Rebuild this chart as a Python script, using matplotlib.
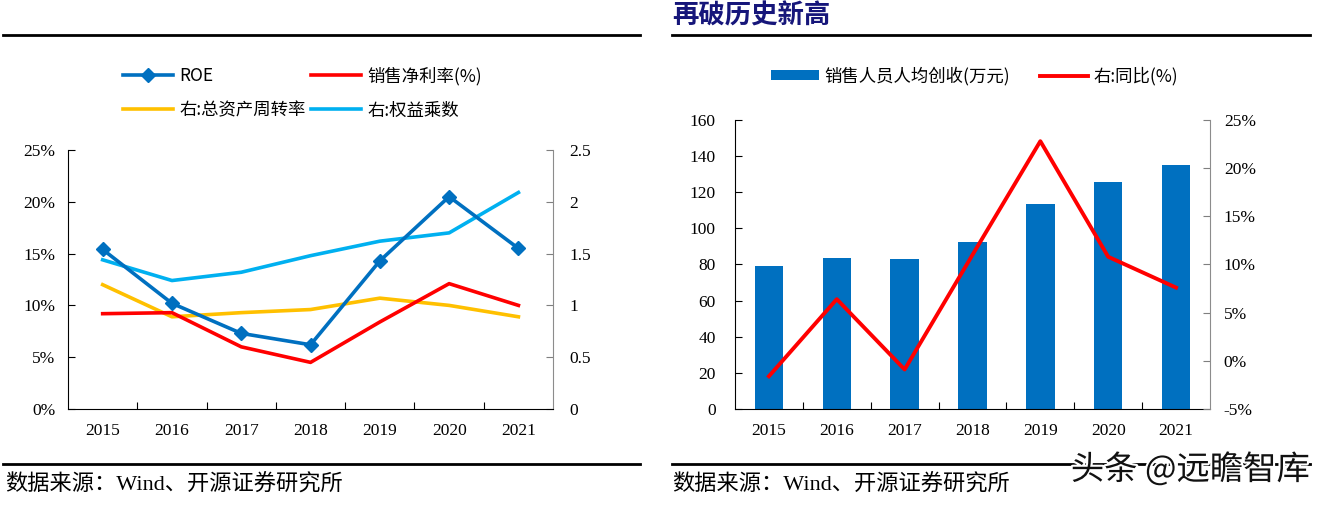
import matplotlib.pyplot as plt
import matplotlib.patheffects as pe
from matplotlib.ticker import FuncFormatter

plt.rcParams['font.family'] = ['Liberation Serif', 'Noto Sans CJK SC']

############
### DATA ###
############
years = ['2015', '2016', '2017', '2018', '2019', '2020', '2021']

# left chart
roe = [15.4, 10.2, 7.3, 6.2, 14.3, 20.5, 15.5]
net_margin = [9.2, 9.3, 6.0, 4.5, 8.4, 12.1, 10.0]
asset_turnover = [1.20, 0.89, 0.93, 0.96, 1.07, 1.00, 0.89]
equity_multiplier = [1.44, 1.24, 1.32, 1.48, 1.62, 1.70, 2.09]

# right chart
rev_per_sales = [79.0, 83.5, 82.8, 92.2, 113.3, 125.4, 135.3]
rev_yoy = [-1.6, 6.4, -0.9, 11.0, 22.8, 10.8, 7.6]

title_right = '再破历史新高'
source = '数据来源：Wind、开源证券研究所'
watermark = '头条 @远瞻智库'

BLUE = '#0070C0'
RED = '#FF0000'
YELLOW = '#FFC000'
LIGHTBLUE = '#00B0F0'
CJK = ['Noto Sans CJK SC', 'DejaVu Sans']

fig = plt.figure(figsize=(13.26, 5.08), dpi=100)

x = list(range(len(years)))


def style_axes(ax, axr, left_pad, right_pad):
    ax.set_xlim(-0.5, len(years) - 0.5)
    ax.set_xticks([i + 0.5 for i in x[:-1]], minor=False)
    ax.set_xticklabels([])
    ax.set_xticks(x, minor=True)
    ax.set_xticklabels(years, minor=True)
    ax.tick_params(axis='x', which='major', direction='in', length=5, color='black')
    ax.tick_params(axis='x', which='minor', length=0, pad=10, labelsize=12.5)
    ax.tick_params(axis='y', direction='in', length=5, pad=left_pad, labelsize=12.5)
    axr.tick_params(axis='y', direction='in', length=5, pad=right_pad, labelsize=12.5,
                    color='#7F7F7F')
    for a in (ax, axr):
        a.spines['top'].set_visible(False)
    axr.spines['left'].set_visible(False)
    axr.spines['bottom'].set_visible(False)
    axr.spines['right'].set_color('#8C8C8C')
    ax.spines['right'].set_visible(False)


#################
### LEFT PLOT ###
#################
ax1 = fig.add_axes([0.0513, 0.1949, 0.3658, 0.5098])
ax1r = ax1.twinx()

l_roe, = ax1.plot(x, roe, color=BLUE, lw=2.6, marker='D', ms=7, label='ROE', zorder=5)
l_nm, = ax1.plot(x, net_margin, color=RED, lw=2.6, label='销售净利率(%)', zorder=4)
l_at, = ax1r.plot(x, asset_turnover, color=YELLOW, lw=2.6, label='右:总资产周转率')
l_em, = ax1r.plot(x, equity_multiplier, color=LIGHTBLUE, lw=2.6, label='右:权益乘数')
ax1.set_zorder(ax1r.get_zorder() + 1)
ax1.patch.set_visible(False)

ax1.set_ylim(0, 25)
ax1.set_yticks([0, 5, 10, 15, 20, 25])
ax1.yaxis.set_major_formatter(FuncFormatter(lambda v, p: '{:.0f}%'.format(v)))
ax1r.set_ylim(0, 2.5)
ax1r.set_yticks([0, 0.5, 1, 1.5, 2, 2.5])
ax1r.set_yticklabels(['0', '0.5', '1', '1.5', '2', '2.5'])
style_axes(ax1, ax1r, 9, 12)

# columns are filled first, so order is roe, turnover | margin, multiplier
fig.legend(handles=[l_roe, l_at, l_nm, l_em], ncol=2, loc='upper left',
           bbox_to_anchor=(0.0807, 0.9), frameon=False, handlelength=2.9,
           columnspacing=0.3, handletextpad=0.35, labelspacing=0.95,
           prop={'family': CJK, 'size': 12.5})

##################
### RIGHT PLOT ###
##################
ax2 = fig.add_axes([0.5543, 0.1949, 0.3582, 0.5689])
ax2r = ax2.twinx()

bars = ax2.bar(x, rev_per_sales, width=0.42, color=BLUE, label='销售人员人均创收(万元)')
l_yoy, = ax2r.plot(x, rev_yoy, color=RED, lw=2.8, label='右:同比(%)')

ax2.set_ylim(0, 160)
ax2.set_yticks(range(0, 161, 20))
ax2r.set_ylim(-5, 25)
ax2r.set_yticks(range(-5, 26, 5))
ax2r.yaxis.set_major_formatter(FuncFormatter(lambda v, p: '{:.0f}%'.format(v)))
style_axes(ax2, ax2r, 14, 10)

fig.legend(handles=[bars, l_yoy], ncol=2, loc='upper left',
           bbox_to_anchor=(0.5695, 0.9), frameon=False, handlelength=2.8,
           handleheight=0.55, columnspacing=1.7, handletextpad=0.3,
           prop={'family': CJK, 'size': 12.5})

##################
### DECORATION ###
##################
for x0, x1 in [(0.002, 0.483), (0.507, 0.988)]:
    fig.add_artist(plt.Line2D([x0, x1], [1 - 35 / 508] * 2, color='black', lw=2))
    fig.add_artist(plt.Line2D([x0, x1], [1 - 464 / 508] * 2, color='black', lw=2))

fig.text(0.507, 1 - 16 / 508, title_right, color='#16167A', fontsize=19,
         fontweight='bold', family=CJK, va='center', ha='left')

fig.text(0.004, 1 - 485 / 508, source, fontsize=16, va='center', ha='left')
fig.text(0.507, 1 - 485 / 508, source, fontsize=16, va='center', ha='left')

fig.text(0.988, 1 - 470 / 508, watermark, fontsize=24, family=CJK, va='center',
         ha='right', color='#111111',
         path_effects=[pe.withStroke(linewidth=3, foreground='white')])

fig.savefig('out.png', dpi=100)
